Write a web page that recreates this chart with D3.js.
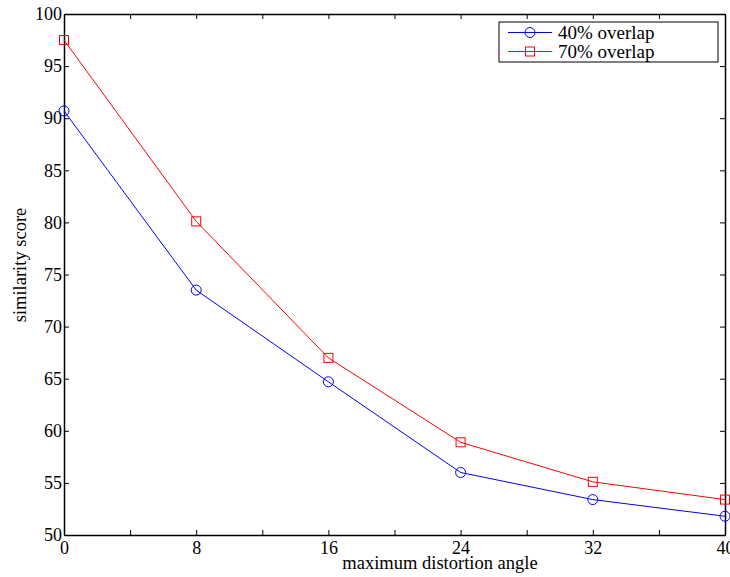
<!DOCTYPE html>
<html>
<head>
<meta charset="utf-8">
<script src="https://cdn.jsdelivr.net/npm/d3@7"></script>
<style>
  body { margin: 0; background: #fff; }
  text { font-family: "Liberation Serif", "Times New Roman", serif; fill: #000; }
</style>
</head>
<body>
<div id="chart"></div>
<script>
const angles = [0, 8, 16, 24, 32, 40];
const overlap40 = [90.7, 73.5, 64.7, 56.0, 53.4, 51.8];
const overlap70 = [97.5, 80.1, 67.0, 58.9, 55.1, 53.4];
const xTicks = [0, 4, 8, 12, 16, 20, 24, 28, 32, 36, 40];
const xLabels = [0, 8, 16, 24, 32, 40];
const yTicks = [50, 55, 60, 65, 70, 75, 80, 85, 90, 95, 100];

const width = 730, height = 577;
const margin = {left: 64, right: 5, top: 14, bottom: 42};
const innerWidth = width - margin.left - margin.right;
const innerHeight = height - margin.top - margin.bottom;

const svg = d3.select("#chart")
    .append("svg")
    .attr("width", width)
    .attr("height", height);

const inner = svg.append("g")
    .attr("transform", `translate(${margin.left}, ${margin.top})`);

const xScale = d3.scaleLinear().domain([0, 40]).range([0, innerWidth]);
const yScale = d3.scaleLinear().domain([50, 100]).range([innerHeight, 0]);

// axes, ticks pointing inward like matlab
const bottomAxis = d3.axisBottom(xScale).tickValues(xTicks).tickSizeInner(-5).tickSizeOuter(0)
    .tickPadding(4).tickFormat(d => xLabels.includes(d) ? d : "");
const topAxis = d3.axisTop(xScale).tickValues(xTicks).tickSizeInner(-5).tickSizeOuter(0).tickFormat("");
const leftAxis = d3.axisLeft(yScale).tickValues(yTicks).tickSizeInner(-5).tickSizeOuter(0).tickPadding(2);
const rightAxis = d3.axisRight(yScale).tickValues(yTicks).tickSizeInner(-5).tickSizeOuter(0).tickFormat("");

const styleAxis = g => {
    g.select(".domain").attr("stroke", "#000").attr("stroke-width", 1.5);
    g.selectAll(".tick line").attr("stroke", "#000");
    g.selectAll(".tick text").attr("font-size", 18).attr("font-family", "Liberation Serif");
    // drop the empty labels of unlabeled ticks
    g.selectAll(".tick text").filter(function() { return this.textContent === ""; }).remove();
};

inner.append("g").attr("transform", `translate(0, ${innerHeight})`).call(bottomAxis).call(styleAxis)
    .selectAll(".tick text").attr("dy", "0.85em");
inner.append("g").call(topAxis).call(styleAxis);
inner.append("g").call(leftAxis).call(styleAxis);
inner.append("g").attr("transform", `translate(${innerWidth}, 0)`).call(rightAxis).call(styleAxis);

const line = d3.line()
    .x((d, i) => xScale(angles[i]))
    .y(d => yScale(d));

const series = [
    {name: "40% overlap", values: overlap40, color: "#0000ff", marker: "circle"},
    {name: "70% overlap", values: overlap70, color: "#ff0000", marker: "square"}
];

const drawMarker = (g, type, color, x, y) => {
    if (type === "circle") {
        g.append("circle").attr("cx", x).attr("cy", y).attr("r", 5)
            .attr("fill", "none").attr("stroke", color).attr("stroke-width", 1);
    } else {
        g.append("rect").attr("x", x - 4.5).attr("y", y - 4.5).attr("width", 9).attr("height", 9)
            .attr("fill", "none").attr("stroke", color).attr("stroke-width", 1);
    }
};

series.forEach(s => {
    inner.append("path")
        .datum(s.values)
        .attr("fill", "none")
        .attr("stroke", s.color)
        .attr("stroke-width", 1)
        .attr("d", line);
    s.values.forEach((v, i) => drawMarker(inner, s.marker, s.color, xScale(angles[i]), yScale(v)));
});

// legend
const legend = svg.append("g").attr("transform", "translate(499, 22)");
legend.append("rect").attr("width", 219).attr("height", 40)
    .attr("fill", "#fff").attr("stroke", "#000").attr("stroke-width", 1);
series.forEach((s, i) => {
    const y = 10.5 + i * 19;
    legend.append("line").attr("x1", 9).attr("x2", 53).attr("y1", y).attr("y2", y)
        .attr("stroke", s.color).attr("stroke-width", 1);
    drawMarker(legend, s.marker, s.color, 31, y);
    legend.append("text").attr("x", 59).attr("y", y + 6.5)
        .attr("font-size", 19).text(s.name);
});

// axis labels
svg.append("text")
    .text("maximum distortion angle")
    .attr("text-anchor", "middle")
    .attr("x", 440)
    .attr("y", 569)
    .attr("font-size", 18.5);

svg.append("text")
    .text("similarity score")
    .attr("text-anchor", "middle")
    .attr("transform", "translate(26, 265) rotate(-90)")
    .attr("font-size", 18.5);
</script>
</body>
</html>
